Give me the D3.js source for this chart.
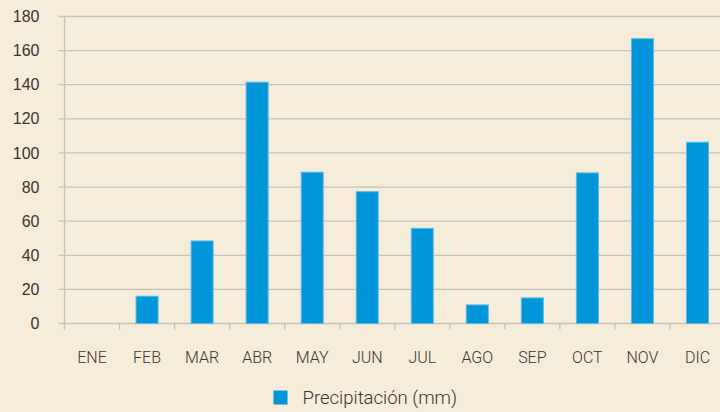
<!DOCTYPE html>
<html>
<head>
<meta charset="utf-8">
<script src="https://cdn.jsdelivr.net/npm/d3@7"></script>
<style>
  html, body { margin: 0; padding: 0; background: #f5ecd9; }
  svg { display: block; font-family: Roboto, "Liberation Sans", sans-serif; }
</style>
</head>
<body>
<svg id="chart" width="720" height="412"></svg>
<script>
const months = ["ENE", "FEB", "MAR", "ABR", "MAY", "JUN", "JUL", "AGO", "SEP", "OCT", "NOV", "DIC"];
const rainfall = [0, 16, 48.4, 141.5, 88.7, 77.3, 55.8, 10.9, 15, 88.3, 167, 106.3];
const yTicks = [0, 20, 40, 60, 80, 100, 120, 140, 160, 180];
const seriesName = "Precipitación (mm)";

const svg = d3.select("#chart");
const plotLeft = 64.5, plotRight = 725, plotTop = 16.5, plotBottom = 323.5;

let x = d3.scaleBand().domain(months).range([plotLeft, plotRight])
    .paddingInner(0.6).paddingOuter(0.3);
let y = d3.scaleLinear().domain([0, 180]).range([plotBottom, plotTop]);

// gridlines
svg.append("g")
    .selectAll("line")
    .data(yTicks)
    .enter()
    .append("line")
    .attr("x1", plotLeft - 6)
    .attr("x2", 720)
    .attr("y1", d => y(d))
    .attr("y2", d => y(d))
    .style("stroke", "#c6c2bb")
    .style("stroke-width", "1.3px");

// y axis labels
let yAxis = d3.axisLeft(y).tickValues(yTicks).tickSize(0).tickPadding(25);
let yg = svg.append("g").attr("transform", "translate(" + plotLeft + ",0)").call(yAxis);
yg.select(".domain").remove();
yg.selectAll("text")
    .style("font-size", "16px")
    .style("font-weight", 300)
    .style("fill", "#3a3531");

// vertical axis line
svg.append("line")
    .attr("x1", plotLeft).attr("x2", plotLeft)
    .attr("y1", plotTop).attr("y2", plotBottom + 6)
    .style("stroke", "#c6c2bb")
    .style("stroke-width", "1.3px");

// category boundary ticks
let gap = (x.step() - x.bandwidth()) / 2;
svg.append("g")
    .selectAll("line")
    .data(months)
    .enter()
    .append("line")
    .attr("x1", d => x(d) - gap)
    .attr("x2", d => x(d) - gap)
    .attr("y1", plotBottom)
    .attr("y2", plotBottom + 6)
    .style("stroke", "#c6c2bb")
    .style("stroke-width", "1.3px");

// bars
svg.append("g")
    .selectAll("rect")
    .data(rainfall)
    .enter()
    .append("rect")
    .attr("x", (d, i) => x(months[i]))
    .attr("y", d => y(d))
    .attr("width", x.bandwidth())
    .attr("height", d => y(0) - y(d))
    .style("fill", "#0096d9")
    .style("stroke", "#5cbbe6")
    .style("stroke-width", "1px");

// month labels
svg.append("g")
    .selectAll("text")
    .data(months)
    .enter()
    .append("text")
    .attr("x", d => x(d) + x.bandwidth() / 2)
    .attr("y", 357)
    .attr("dy", "0.35em")
    .attr("text-anchor", "middle")
    .style("font-size", "16px")
    .style("font-weight", 300)
    .style("fill", "#3a3531")
    .text(d => d);

// legend
let legend = svg.append("g").attr("transform", "translate(273.5,390.5)");
legend.append("rect")
    .attr("width", 14)
    .attr("height", 14)
    .style("fill", "#0096d9");
legend.append("text")
    .attr("x", 29)
    .attr("y", 7.5)
    .attr("dy", "0.35em")
    .style("font-size", "18.5px")
    .style("font-weight", 300)
    .style("fill", "#3a3531")
    .text(seriesName);
</script>
</body>
</html>
